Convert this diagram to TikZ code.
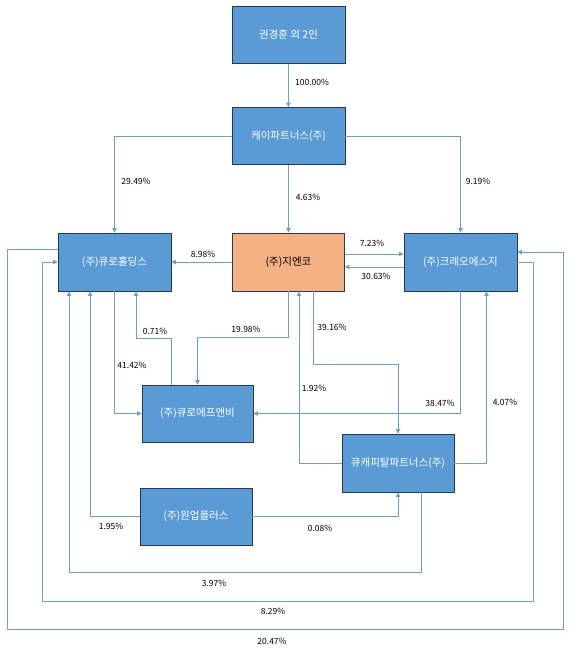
\documentclass[tikz,border=0pt]{standalone}
\usepackage{fontspec}
\setmainfont{Noto Sans CJK KR}
\usetikzlibrary{arrows.meta}
\definecolor{boxblue}{HTML}{5B9BD5}
\definecolor{boxedge}{HTML}{203A5C}
\definecolor{salmon}{HTML}{F4B183}
\definecolor{linkblue}{HTML}{6A9FD4}
\tikzset{
  entity/.style={rectangle, draw=boxedge, line width=0.9pt, fill=boxblue, text=white,
    minimum width=113pt, minimum height=57pt, inner sep=0pt, font=\fontsize{10.5}{12}\selectfont},
  mainent/.style={entity, fill=salmon, text=black},
  link/.style={draw=linkblue, line width=0.8pt, -{Triangle[length=4.5pt,width=4.5pt]}},
  pct/.style={font=\fontsize{8.5}{10}\selectfont, text=black, inner sep=0pt}
}
\begin{document}
\begin{tikzpicture}[x=1pt,y=-1pt]
\useasboundingbox (0,0) rectangle (575,661);
% nodes
\node[entity] (kwon) at (288.5,35) {권경훈 외 2인};
\node[entity] (kei) at (288.5,136) {케이파트너스(주)};
\node[entity, minimum height=58pt] (curohold) at (114.5,262) {(주)큐로홀딩스};
\node[mainent, minimum width=112pt, minimum height=58pt] (gnco) at (288.5,262) {(주)지엔코};
\node[entity, minimum height=58pt] (creo) at (460.5,262) {(주)크레오에스지};
\node[entity, minimum width=111pt] (curofnb) at (197.5,413.5) {(주)큐로에프앤비};
\node[entity, minimum width=112pt] (oneup) at (196,516.5) {(주)원업플러스};
\node[entity, minimum width=112pt, minimum height=58pt] (qcap) at (398,463) {큐캐피탈파트너스(주)};
% connectors
\draw[link] (kwon.south) -- (kei.north);
\draw[link] (kei.west) -| (curohold.north);
\draw[link] (kei.south) -- (gnco.north);
\draw[link] (kei.east) -| (creo.north);
\draw[link] (gnco.west) -- (curohold.east);
\draw[link] ([yshift=8pt]gnco.east) -- ([yshift=8pt]creo.west);
\draw[link] ([yshift=-5pt]creo.west) -- ([yshift=-5pt]gnco.east);
\draw[link] (gnco.south) -- ++(0,46) -| (curofnb.north);
\draw[link] ([xshift=-26pt]curofnb.north) -- ++(0,-46) -| ([xshift=21.5pt]curohold.south);
\draw[link] (curohold.south) |- (curofnb.west);
\draw[link] (creo.south) |- (curofnb.east);
\draw[link] ([xshift=25pt]gnco.south) -- ++(0,73) -| (qcap.north);
\draw[link] (qcap.west) -| ([xshift=10.5pt]gnco.south);
\draw[link] (qcap.east) -| ([xshift=26pt]creo.south);
\draw[link] (oneup.west) -| ([xshift=-24.5pt]curohold.south);
\draw[link] (oneup.east) -| (qcap.south);
\draw[link] ([xshift=23pt]qcap.south) -- ++(0,80) -| ([xshift=-45.5pt]curohold.south);
\draw[link] (creo.east) -- ++(16,0) -- ++(0,339) -- ++(-491,0) |- (curohold.west);
\draw[link] ([yshift=13pt]curohold.west) -- ++(-50,0) -- ++(0,380) -- ++(556,0) |- ([yshift=10pt]creo.east);
% labels
\node[pct] (l1) at (312,82) {100.00\%};
\node[pct] (l2) at (136,181) {29.49\%};
\node[pct] (l3) at (308,197) {4.63\%};
\node[pct] (l4) at (478,181) {9.19\%};
\node[pct] (l5) at (203,254) {8.98\%};
\node[pct] (l6) at (372,243) {7.23\%};
\node[pct] (l7) at (376,276) {30.63\%};
\node[pct] (l8) at (155,331) {0.71\%};
\node[pct] (l9) at (246,329) {19.98\%};
\node[pct] (l10) at (132,365) {41.42\%};
\node[pct] (l11) at (332,327) {39.16\%};
\node[pct] (l12) at (314,388) {1.92\%};
\node[pct] (l13) at (440,403) {38.47\%};
\node[pct] (l14) at (505,402) {4.07\%};
\node[pct] (l15) at (111,526) {1.95\%};
\node[pct] (l16) at (320,528) {0.08\%};
\node[pct] (l17) at (214,583) {3.97\%};
\node[pct] (l18) at (273,611) {8.29\%};
\node[pct] (l19) at (272,641) {20.47\%};
\end{tikzpicture}
\end{document}
